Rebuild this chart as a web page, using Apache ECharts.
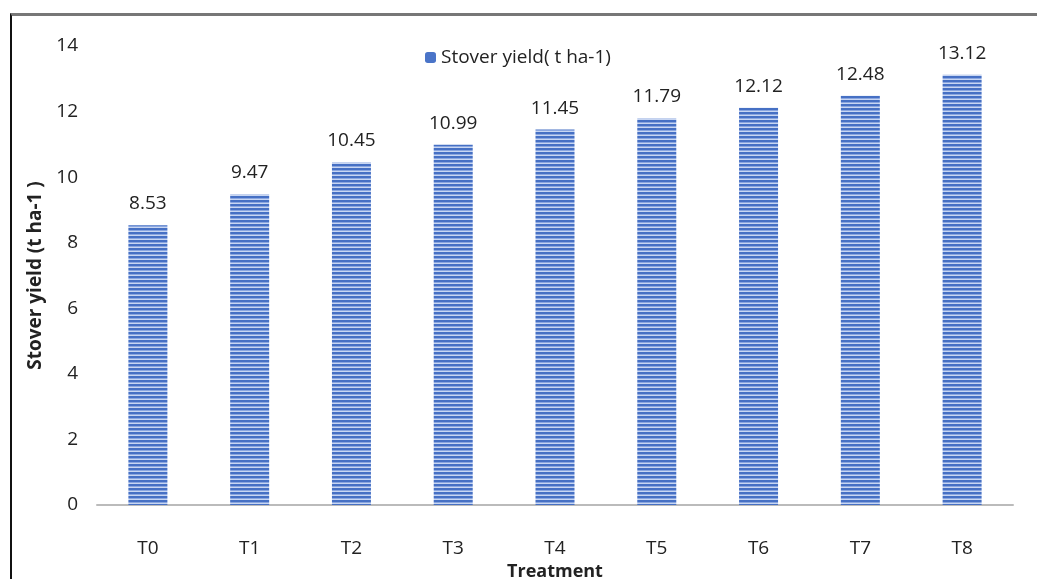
<!DOCTYPE html>
<html>
<head>
<meta charset="utf-8">
<script src="https://cdn.jsdelivr.net/npm/echarts@6/dist/echarts.min.js"></script>
<style>
  html, body { margin: 0; padding: 0; background: #fff; }
  #frame { position: absolute; left: 10px; top: 13px; width: 1027px; height: 566px;
           border-left: 2px solid #111; border-top: 3px solid #777; box-sizing: border-box; }
  #chart { position: absolute; left: 0; top: 0; width: 1037px; height: 579px; }
</style>
</head>
<body>
<div id="frame"></div>
<div id="chart"></div>
<script>
const categories = ["T0", "T1", "T2", "T3", "T4", "T5", "T6", "T7", "T8"];
const stoverYield = [8.53, 9.47, 10.45, 10.99, 11.45, 11.79, 12.12, 12.48, 13.12];

// striped fill like the office "horizontal lines" pattern
function stripes() {
  const c = document.createElement("canvas");
  c.width = 4;
  c.height = 4;
  const ctx = c.getContext("2d");
  ctx.fillStyle = "#4670c4";
  ctx.fillRect(0, 0, 4, 2);
  ctx.fillStyle = "#8aa6e0";
  ctx.fillRect(0, 2, 4, 1);
  ctx.fillStyle = "#c8d6f2";
  ctx.fillRect(0, 3, 4, 1);
  return c;
}
const pattern = { image: stripes(), repeat: "repeat" };
const font = "'Open Sans', 'Noto Sans', sans-serif";

const chart = echarts.init(document.getElementById("chart"));
chart.setOption({
  animation: false,
  textStyle: { fontFamily: font },
  legend: {
    top: 43,
    left: 420,
    itemWidth: 11,
    itemHeight: 11,
    itemGap: 4,
    textStyle: { fontSize: 19, color: "#222", fontFamily: font },
    data: [{ name: "Stover yield( t ha-1)", itemStyle: { color: "#4a74c8" } }],
  },
  grid: { left: 97, right: 24, top: 46, bottom: 74, outerBoundsMode: "none" },
  xAxis: {
    type: "category",
    data: categories,
    name: "Treatment",
    nameLocation: "middle",
    nameGap: 48,
    nameTextStyle: { fontSize: 18, fontWeight: "bold", color: "#222", fontFamily: font },
    axisLine: { lineStyle: { color: "#bbb", width: 2 } },
    axisTick: { show: false },
    axisLabel: { fontSize: 19, color: "#222", margin: 34 },
  },
  yAxis: {
    type: "value",
    min: 0,
    max: 14,
    interval: 2,
    name: "Stover yield (t ha-1 )",
    nameLocation: "middle",
    nameGap: 52,
    nameTextStyle: { fontSize: 19, fontWeight: "bold", color: "#222", fontFamily: font },
    axisLine: { show: false },
    axisTick: { show: false },
    splitLine: { show: false },
    axisLabel: { fontSize: 19, color: "#222", margin: 19 },
  },
  series: [
    {
      name: "Stover yield( t ha-1)",
      type: "bar",
      data: stoverYield,
      barWidth: 39,
      itemStyle: { color: pattern },
      label: {
        show: true,
        position: "top",
        distance: 12,
        fontSize: 19,
        color: "#222",
        formatter: (p) => p.value.toFixed(2),
      },
    },
  ],
});
</script>
</body>
</html>
